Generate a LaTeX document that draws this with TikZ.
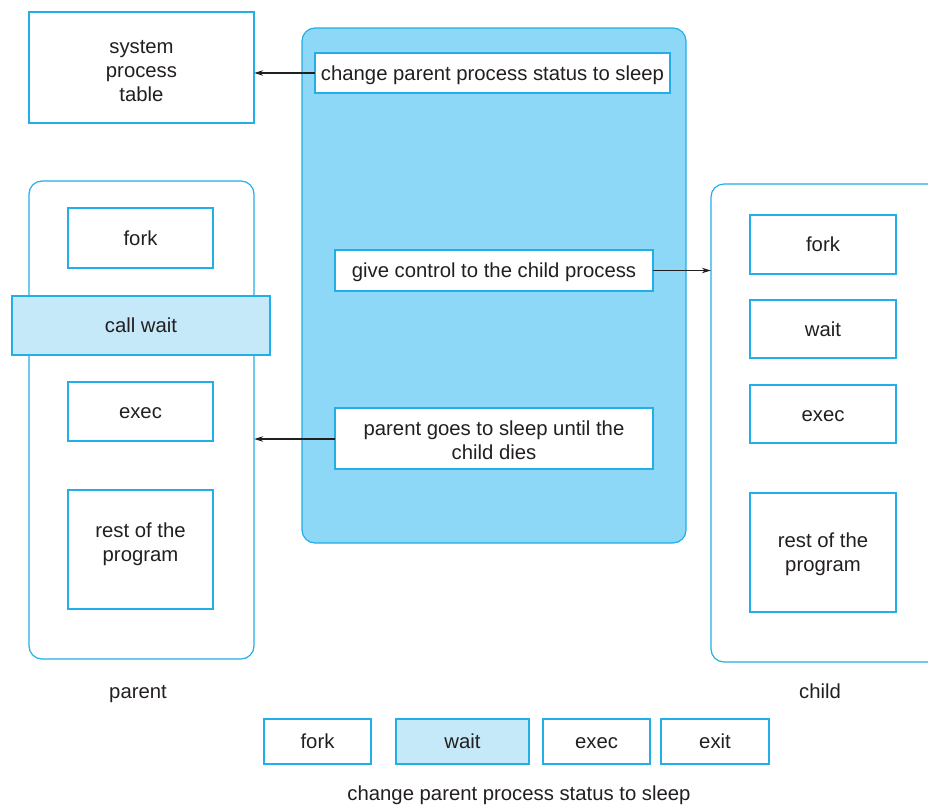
\documentclass[tikz,border=0pt]{standalone}
\usepackage{fontspec}
\setmainfont{Liberation Sans}
\usetikzlibrary{arrows.meta}
\definecolor{edge}{HTML}{22AEE6}
\definecolor{kernfill}{HTML}{8ED8F7}
\definecolor{paleblue}{HTML}{C5E9F8}
\definecolor{ink}{HTML}{231F20}
\tikzset{
  box/.style={draw=edge, line width=1.2pt, fill=white, inner sep=0pt},
  hbox/.style={box, fill=paleblue},
  frame/.style={draw=edge, line width=1.2pt, rounded corners=13pt},
  lbl/.style={text=ink, font=\fontsize{20.3}{24}\selectfont, align=center, inner sep=0pt},
  one/.style={lbl, text height=17pt, text depth=3pt},
  link/.style={draw=ink, line width=1.1pt, -{Stealth[length=9pt,width=5.5pt]}},
}
\newcommand{\boxat}[6]{% name, style, x1, y1, x2, y2
  \path[#2] (#3,#4) rectangle (#5,#6);
  \node[inner sep=0pt, minimum width=#5pt-#3pt, minimum height=#6pt-#4pt] (#1) at ({(#3+#5)/2},{(#4+#6)/2}) {};
}
\begin{document}
\begin{tikzpicture}[x=1pt, y=-1pt]
\useasboundingbox (0,0) rectangle (928,804);

% kernel area
\path[frame, fill=kernfill] (302,28) rectangle (686,543);

% parent and child process frames
\path[frame] (29,181) rectangle (254,659);
\path[frame] (711,184) rectangle (950,662);
\node[inner sep=0pt, minimum width=225pt, minimum height=478pt] (par) at (141.5,420) {};
\node[inner sep=0pt, minimum width=239pt, minimum height=478pt] (chd) at (830.5,423) {};

% system process table
\boxat{spt}{box}{29}{12}{254}{123}
\node[lbl] at ([yshift=-4pt]spt) {system\\process\\ table};

% kernel actions
\boxat{k1}{box}{315}{53}{670}{93}
\node[one] at (k1) {change parent process status to sleep};
\boxat{k2}{box}{335}{250}{653}{291}
\node[one] at (k2) {give control to the child process};
\boxat{k3}{box}{335}{408}{653}{469}
\node[lbl] at ([yshift=-2pt]k3) {parent goes to sleep until the\\child dies};

% parent program
\boxat{pf}{box}{68}{208}{213}{268}
\node[one] at (pf) {fork};
\boxat{pw}{hbox}{12}{296}{270}{355}
\node[one] at (pw) {call wait};
\boxat{pe}{box}{68}{382}{213}{441}
\node[one] at (pe) {exec};
\boxat{pr}{box}{68}{490}{213}{609}
\node[lbl] at ([yshift=5pt]pr) {rest of the\\program};
\node[one] (plab) at (138,691) {parent};

% child program
\boxat{cf}{box}{750}{215}{896}{274}
\node[one] at (cf) {fork};
\boxat{cw}{box}{750}{300}{896}{358}
\node[one] at (cw) {wait};
\boxat{ce}{box}{750}{385}{896}{443}
\node[one] at (ce) {exec};
\boxat{cr}{box}{750}{493}{896}{612}
\node[lbl] at ([yshift=-2pt]cr) {rest of the\\program};
\node[one] (clab) at (820,691) {child};

% system call row
\boxat{bf}{box}{264}{719}{371}{764}
\node[one] at (bf) {fork};
\boxat{bw}{hbox}{396}{719}{529}{764}
\node[one] at (bw) {wait};
\boxat{be}{box}{543}{719}{650}{764}
\node[one] at (be) {exec};
\boxat{bx}{box}{661}{719}{769}{764}
\node[one] at (bx) {exit};
\node[one] (blab) at (519,793) {change parent process status to sleep};

% connectors
\draw[link] (k1.west) -- (spt.east |- k1.west);
\draw[link] (k2.east) -- (chd.west |- k2.east);
\draw[link] (k3.west |- 0,439) -- (par.east |- 0,439);
\end{tikzpicture}
\end{document}
